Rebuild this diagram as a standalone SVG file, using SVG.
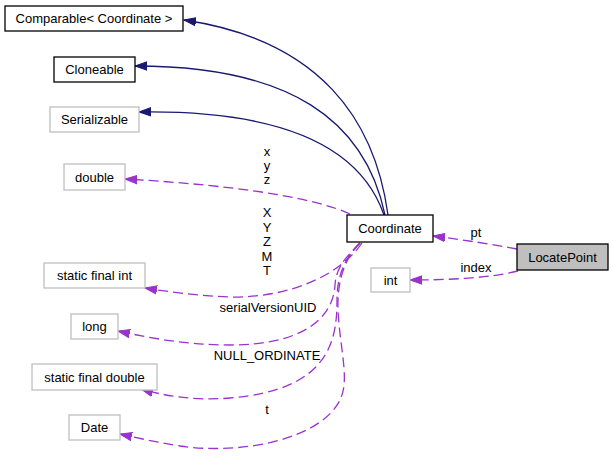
<svg xmlns="http://www.w3.org/2000/svg" width="613" height="457" viewBox="0 0 613 457">
<style>
  text { font-family: "Liberation Sans", Arial, sans-serif; font-size: 13px; fill: #000; text-anchor: middle; }
  .box { fill: #fff; stroke: #000; stroke-width: 1.3; }
  .ext { fill: #fff; stroke: #bfbfbf; stroke-width: 1.3; }
  .cur { fill: #bfbfbf; stroke: #000; stroke-width: 1.3; }
  .inh { fill: none; stroke: #191970; stroke-width: 1.3; marker-end: url(#ah-navy); }
  .use { fill: none; stroke: #9a32cd; stroke-width: 1.3; stroke-dasharray: 10,5; marker-end: url(#ah-purple); }
</style>
<defs>
  <marker id="ah-navy" markerUnits="userSpaceOnUse" markerWidth="14" markerHeight="10" viewBox="0 -5 14 10" refX="12" refY="0" orient="auto">
    <path d="M0,-4.2 L12,0 L0,4.2 z" fill="#191970" stroke="#191970" stroke-width="1"/>
  </marker>
  <marker id="ah-purple" markerUnits="userSpaceOnUse" markerWidth="14" markerHeight="10" viewBox="0 -5 14 10" refX="12" refY="0" orient="auto">
    <path d="M0,-4.2 L12,0 L0,4.2 z" fill="#9a32cd" stroke="#9a32cd" stroke-width="1"/>
  </marker>
</defs>

<g id="edges">
  <path class="inh" d="M388,215 C375,120 320,40 184,20"/>
  <path class="inh" d="M385,215 C365,120 290,66 135,66"/>
  <path class="inh" d="M384,215 C360,145 280,110 139,112"/>
  <path class="use" d="M350,214 C320,200 250,186 125,179"/>
  <path class="use" d="M362,243 C340,275 290,298 230,297 C200,296 170,292 145,288"/>
  <path class="use" d="M360,243 C345,258 336,268 335,285 C333,320 300,345 230,345 C185,345 145,337 118,331"/>
  <path class="use" d="M360,243 C345,258 337,275 337,300 C337,340 330,390 230,398 C195,401 165,396 141,389"/>
  <path class="use" d="M360,243 C345,258 337,280 338,310 C340,350 350,380 340,400 C320,440 240,455 180,446 C155,442 138,438 120,434"/>
  <path class="use" d="M517,249 C490,244 465,240 433,236"/>
  <path class="use" d="M518,271 C490,278 450,280 410,280"/>
  <text x="267" y="156">x</text>
  <text x="267" y="170">y</text>
  <text x="267" y="184">z</text>
  <text x="267" y="217">X</text>
  <text x="267" y="231.6">Y</text>
  <text x="267" y="246.2">Z</text>
  <text x="267" y="260.8">M</text>
  <text x="267" y="275.4">T</text>
  <text x="268" y="312">serialVersionUID</text>
  <text x="267" y="360">NULL_ORDINATE</text>
  <text x="267" y="414">t</text>
  <text x="476" y="237">pt</text>
  <text x="476" y="272">index</text>
</g>

<g id="node-comparable"><rect class="box" x="5" y="6" width="178" height="25"/><text x="94" y="23">Comparable&lt; Coordinate &gt;</text></g>
<g id="node-cloneable"><rect class="box" x="54" y="57" width="81" height="25"/><text x="94.5" y="74">Cloneable</text></g>
<g id="node-serializable"><rect class="ext" x="50" y="107" width="89" height="25"/><text x="94.5" y="124">Serializable</text></g>
<g id="node-double"><rect class="ext" x="64" y="164" width="61" height="26"/><text x="94.5" y="181.5">double</text></g>
<g id="node-sfint"><rect class="ext" x="44" y="263" width="101" height="25"/><text x="94.5" y="280">static final int</text></g>
<g id="node-long"><rect class="ext" x="71" y="314" width="47" height="25"/><text x="94.5" y="331">long</text></g>
<g id="node-sfdouble"><rect class="ext" x="32" y="364" width="125" height="26"/><text x="94.5" y="381.5">static final double</text></g>
<g id="node-date"><rect class="ext" x="69" y="415" width="51" height="25"/><text x="94.5" y="432">Date</text></g>
<g id="node-coordinate"><rect class="box" x="347" y="215" width="86" height="27"/><text x="390" y="233">Coordinate</text></g>
<g id="node-int"><rect class="ext" x="371" y="268" width="39" height="24"/><text x="390.5" y="284.5">int</text></g>
<g id="node-locatepoint"><rect class="cur" x="517" y="244" width="91" height="26"/><text x="562.5" y="261.5">LocatePoint</text></g>
</svg>
